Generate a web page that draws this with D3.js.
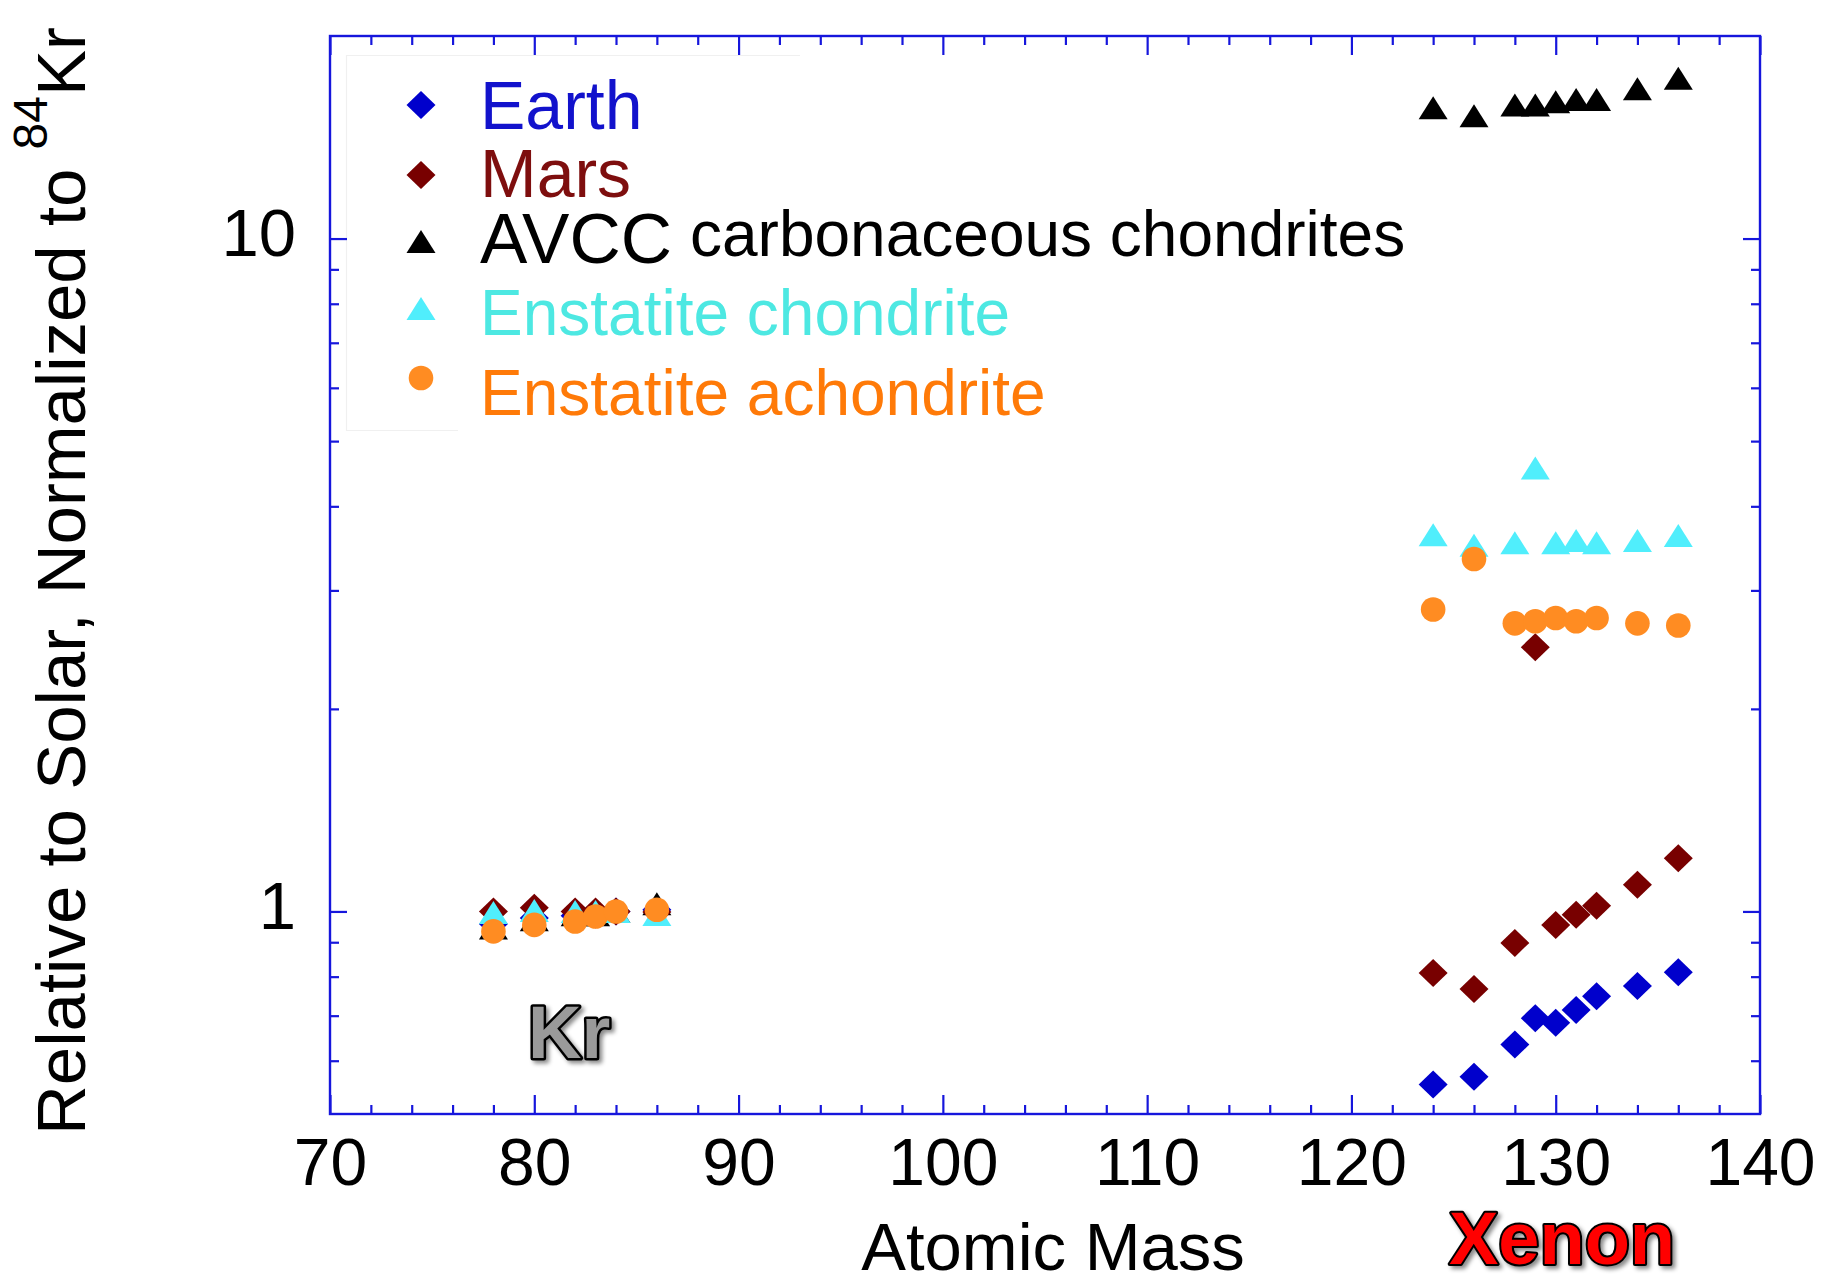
<!DOCTYPE html>
<html>
<head>
<meta charset="utf-8">
<script src="https://cdn.jsdelivr.net/npm/d3@7"></script>
<style>
  html, body { margin: 0; padding: 0; background: #fff; }
  svg { display: block; font-family: "Liberation Sans", Arial, Helvetica, sans-serif; }
</style>
</head>
<body>
<svg id="chart" width="1825" height="1277"></svg>
<script>
// Isotope masses
const krMass = [78, 80, 82, 83, 84, 86];
const xeMass = [124, 126, 128, 129, 130, 131, 132, 134, 136];

// Abundances relative to solar, normalized to 84Kr
const earthKr = [0.958, 0.978, 0.985, 0.99, 1.0, 1.006];
const earthXe = [0.553, 0.568, 0.634, 0.694, 0.683, 0.714, 0.748, 0.775, 0.812];
const marsKr = [1.0, 1.013, 1.0, 1.0, 1.0, 0.998];
const marsXe = [0.81, 0.767, 0.898, 2.47, 0.955, 0.989, 1.02, 1.096, 1.2];
const avccKr = [0.945, 0.972, 0.989, 0.989, 1.0, 1.027];
const avccXe = [15.64, 15.22, 15.8, 15.8, 15.97, 16.09, 16.09, 16.69, 17.31];
const echKr = [0.996, 1.003, 1.0, 1.0, 1.0, 0.99];
const echXe = [3.63, 3.5, 3.53, 4.56, 3.53, 3.56, 3.53, 3.56, 3.62];
const eachKr = [0.934, 0.955, 0.966, 0.983, 1.0, 1.006];
const eachXe = [2.81, 3.34, 2.68, 2.7, 2.73, 2.7, 2.73, 2.68, 2.66];

// Axis ticks
const xMajor = [70, 80, 90, 100, 110, 120, 130, 140];
const xMinor = d3.range(72, 140, 2).filter(v => v % 10 !== 0);
const yMajor = [1, 10];
const yMinor = [0.6, 0.7, 0.8, 0.9, 2, 3, 4, 5, 6, 7, 8, 9];

// Series: name, marker, colours, data
const seriesNames = ["Earth", "Mars", "AVCC", "Enstatite chondrite", "Enstatite achondrite"];
const seriesSymbols = ["diamond", "diamond", "triangle", "triangle", "circle"];
const seriesFill = ["#0000cc", "#780000", "#000000", "#50eefc", "#ff8c22"];
const seriesText = ["#1212cc", "#7e0e0e", "#000000", "#4de8e2", "#ff7a08"];
const seriesKr = [earthKr, marsKr, avccKr, echKr, eachKr];
const seriesXe = [earthXe, marsXe, avccXe, echXe, eachXe];
// painting order (bottom to top)
const drawOrder = [0, 2, 1, 3, 4];

const svg = d3.select("#chart");
const axisColor = "#1616dc";

const x = d3.scaleLinear().domain([70, 140]).range([330, 1760]);
const y = d3.scaleLog().domain([0.5, 20]).range([1114, 36]);

// Marker shapes sized to the plot
const diamond = { draw(ctx) { const w = 14.5, h = 14; ctx.moveTo(0, -h); ctx.lineTo(w, 0); ctx.lineTo(0, h); ctx.lineTo(-w, 0); ctx.closePath(); } };
const triangle = { draw(ctx) { const w = 14.5, h = 11.5; ctx.moveTo(0, -h); ctx.lineTo(w, h); ctx.lineTo(-w, h); ctx.closePath(); } };
const circle = { draw(ctx) { const r = 12.3; ctx.moveTo(r, 0); ctx.arc(0, 0, r, 0, 2 * Math.PI); } };
const shapes = { diamond, triangle, circle };
const sym = name => d3.symbol().type(shapes[name])();

const defs = svg.append("defs");
const f = defs.append("filter").attr("id", "shadow").attr("x", "-20%").attr("y", "-20%").attr("width", "140%").attr("height", "140%");
f.append("feDropShadow").attr("dx", 3).attr("dy", 3).attr("stdDeviation", 2)
  .attr("flood-color", "#000").attr("flood-opacity", 0.45);

// Legend frame
svg.append("path")
  .attr("d", "M458,430.5H346.5V55.5H800")
  .attr("fill", "none").attr("stroke", "#f0f0f0").attr("stroke-width", 1.2);

// Axes: ticks point inward on all four sides
function styleAxis(g) {
  g.select(".domain").remove();
  g.selectAll("line").attr("stroke", axisColor).attr("stroke-width", 2.2);
}
const bottomMaj = d3.axisBottom(x).tickValues(xMajor).tickSize(-19).tickFormat(d3.format("d"));
const gB = svg.append("g").attr("transform", "translate(0,1114)").call(bottomMaj).call(styleAxis);
gB.selectAll("text").attr("y", 71).attr("dy", null).attr("fill", "#000")
  .attr("font-size", 66).attr("font-family", "Liberation Sans, Arial, sans-serif");
svg.append("g").attr("transform", "translate(0,1114)")
  .call(d3.axisBottom(x).tickValues(xMinor).tickSize(-9).tickFormat("")).call(styleAxis);
svg.append("g").attr("transform", "translate(0,36)")
  .call(d3.axisTop(x).tickValues(xMajor).tickSize(-19).tickFormat("")).call(styleAxis);
svg.append("g").attr("transform", "translate(0,36)")
  .call(d3.axisTop(x).tickValues(xMinor).tickSize(-9).tickFormat("")).call(styleAxis);

const gL = svg.append("g").attr("transform", "translate(330,0)")
  .call(d3.axisLeft(y).tickValues(yMajor).tickSize(-17).tickFormat(d3.format("d"))).call(styleAxis);
gL.selectAll("text").attr("x", -34).attr("dy", null).attr("y", 17).attr("fill", "#000")
  .attr("font-size", 67).attr("font-family", "Liberation Sans, Arial, sans-serif");
svg.append("g").attr("transform", "translate(330,0)")
  .call(d3.axisLeft(y).tickValues(yMinor).tickSize(-9).tickFormat("")).call(styleAxis);
svg.append("g").attr("transform", "translate(1760,0)")
  .call(d3.axisRight(y).tickValues(yMajor).tickSize(-17).tickFormat("")).call(styleAxis);
svg.append("g").attr("transform", "translate(1760,0)")
  .call(d3.axisRight(y).tickValues(yMinor).tickSize(-9).tickFormat("")).call(styleAxis);

// Plot frame
svg.append("rect")
  .attr("x", x(70)).attr("y", y(20)).attr("width", x(140) - x(70)).attr("height", y(0.5) - y(20))
  .attr("fill", "none").attr("stroke", axisColor).attr("stroke-width", 2.4);

// Data points
const marks = svg.append("g");
drawOrder.forEach(i => {
  const pts = krMass.map((m, j) => [m, seriesKr[i][j]])
    .concat(xeMass.map((m, j) => [m, seriesXe[i][j]]));
  marks.append("g").selectAll("path").data(pts).join("path")
    .attr("d", sym(seriesSymbols[i]))
    .attr("transform", d => `translate(${x(d[0])},${y(d[1])})`)
    .attr("fill", seriesFill[i]);
});

// Legend
const legY = [105, 175, 241.5, 308.5, 378];
const legBase = [128.5, 196.5, 263, 335, 415];
const legSize = [68, 68, 71, 64, 64];
const leg = svg.append("g");
seriesNames.forEach((name, i) => {
  leg.append("path").attr("d", sym(seriesSymbols[i]))
    .attr("transform", `translate(421,${legY[i]})`).attr("fill", seriesFill[i]);
  leg.append("text").attr("x", 480).attr("y", legBase[i])
    .attr("font-size", legSize[i]).attr("fill", seriesText[i]).text(name);
});
leg.append("text").attr("x", 690).attr("y", 256).attr("font-size", 64)
  .attr("fill", "#000").text("carbonaceous chondrites");

// Axis titles
svg.append("text").attr("x", 1053).attr("y", 1270).attr("text-anchor", "middle")
  .attr("font-size", 67).attr("fill", "#000").text("Atomic Mass");

const yt = svg.append("text").attr("transform", "translate(85,1135) rotate(-90)")
  .attr("font-size", 69).attr("fill", "#000");
yt.append("tspan").text("Relative to Solar, Normalized to ");
yt.append("tspan").attr("font-size", 48).attr("dy", -38).text("84");
yt.append("tspan").attr("dy", 38).text("Kr");

// Element labels
svg.append("text").attr("x", 528).attr("y", 1058).attr("font-size", 74).attr("font-weight", "bold")
  .attr("fill", "#9a9a9a").attr("stroke", "#000").attr("stroke-width", 5)
  .attr("paint-order", "stroke").attr("stroke-linejoin", "round").attr("filter", "url(#shadow)").text("Kr");
svg.append("text").attr("x", 1562).attr("y", 1264).attr("text-anchor", "middle")
  .attr("font-size", 74).attr("font-weight", "bold")
  .attr("fill", "#ff0000").attr("stroke", "#000").attr("stroke-width", 4)
  .attr("paint-order", "stroke").attr("stroke-linejoin", "round").attr("filter", "url(#shadow)").text("Xenon");
</script>
</body>
</html>
